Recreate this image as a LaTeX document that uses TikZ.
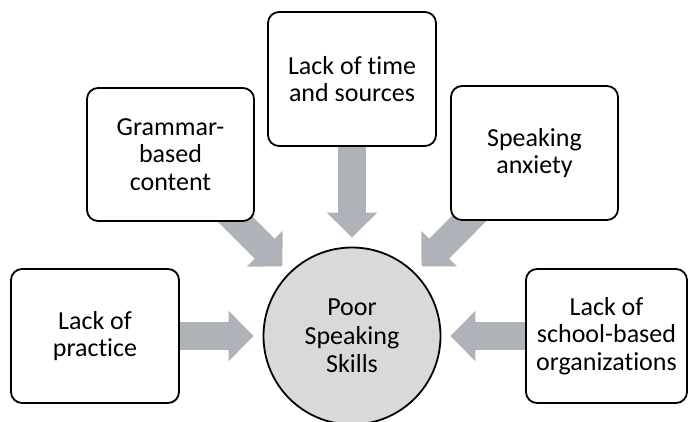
\documentclass[tikz,border=0pt]{standalone}
\usepackage{fontspec}
\setmainfont{Carlito}[Ligatures=NoCommon]
\usetikzlibrary{arrows.meta,backgrounds}
\definecolor{arrowgray}{RGB}{175,178,184}
\definecolor{circgray}{RGB}{217,217,217}
\tikzset{
  causebox/.style={draw=black, line width=1.8pt, rounded corners=11pt, fill=white,
    minimum width=168pt, minimum height=134pt, inner sep=0pt, align=center,
    font=\fontsize{26}{27.5}\selectfont},
  effect/.style={draw=black, line width=1.8pt, circle, fill=circgray,
    minimum size=177pt, inner sep=0pt, align=center,
    font=\fontsize{26}{28.5}\selectfont},
  bigarrow/.style={draw=arrowgray, line width=28pt,
    -{Triangle[length=25pt,width=49pt]}, shorten >=9pt}
}
\begin{document}
\begin{tikzpicture}[x=1pt,y=-1pt]
\useasboundingbox (0,0) rectangle (688,421);
\node[effect] (poor) at (352,336) {Poor\\Speaking\\Skills};
\node[causebox] (practice) at (95,336) {Lack of\\practice};
\node[causebox, minimum width=167pt, minimum height=133pt] (grammar) at (170.5,154.5) {Grammar-\\based\\content};
\node[causebox] (time) at (352,79) {Lack of time\\and sources};
\node[causebox, minimum width=167pt] (anxiety) at (534.5,153) {Speaking\\anxiety};
\node[causebox, minimum width=161pt] (school) at (606.5,336) {Lack of\\school-based\\organizations};
\begin{scope}[on background layer]
\draw[bigarrow] (practice.center) -- (poor);
\draw[bigarrow] (grammar.center) -- (poor);
\draw[bigarrow] (time.center) -- (poor);
\draw[bigarrow] (anxiety.center) -- (poor);
\draw[bigarrow] (school.center) -- (poor);
\end{scope}
\end{tikzpicture}
\end{document}
